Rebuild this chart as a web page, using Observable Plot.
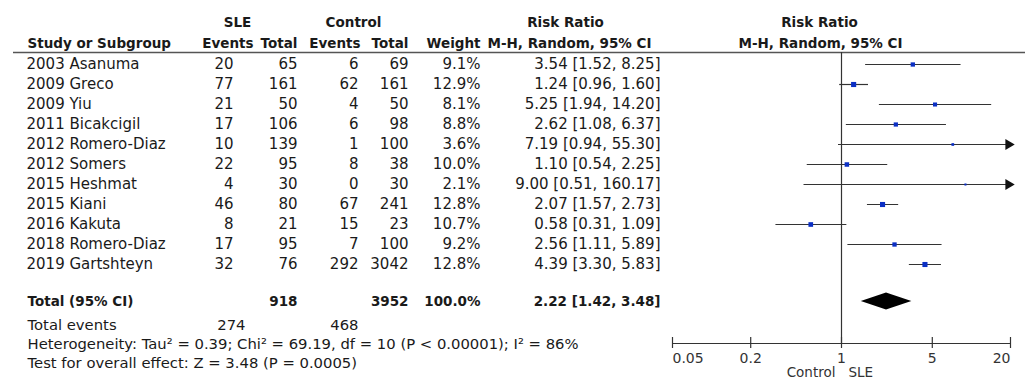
<!DOCTYPE html>
<html><head><meta charset="utf-8">
<script src="https://cdn.jsdelivr.net/npm/d3@7"></script>
<script src="https://cdn.jsdelivr.net/npm/@observablehq/plot@0.6"></script>
<style>
body{margin:0;background:#fff}
#wrap{position:relative;width:1035px;height:390px;overflow:hidden}
#wrap svg{position:absolute;left:0;top:0;overflow:visible}
</style>
</head><body><div id="wrap"></div>
<script>
// ---- data ----
const studies = ["2003 Asanuma","2009 Greco","2009 Yiu","2011 Bicakcigil","2012 Romero-Diaz","2012 Somers","2015 Heshmat","2015 Kiani","2016 Kakuta","2018 Romero-Diaz","2019 Gartshteyn"];
const sleEvents = [20,77,21,17,10,22,4,46,8,17,32];
const sleTotal  = [65,161,50,106,139,95,30,80,21,95,76];
const ctlEvents = [6,62,4,6,1,8,0,67,15,7,292];
const ctlTotal  = [69,161,50,98,100,38,30,241,23,100,3042];
const weights   = [9.1,12.9,8.1,8.8,3.6,10.0,2.1,12.8,10.7,9.2,12.8];
const rr        = [3.54,1.24,5.25,2.62,7.19,1.10,9.00,2.07,0.58,2.56,4.39];
const lower     = [1.52,0.96,1.94,1.08,0.94,0.54,0.51,1.57,0.31,1.11,3.30];
const upper     = [8.25,1.60,14.20,6.37,55.30,2.25,160.17,2.73,1.09,5.89,5.83];
const pooled    = [2.22,1.42,3.48];          // RR, lower, upper
const totalN    = [918,3952];                // SLE total, Control total
const totalEv   = [274,468];                 // SLE events, Control events
const totalWeight = 100.0;
const heterogeneity = "Heterogeneity: Tau² = 0.39; Chi² = 69.19, df = 10 (P < 0.00001); I² = 86%";
const overall = "Test for overall effect: Z = 3.48 (P = 0.0005)";
const axisTicks = [0.05,0.2,1,5,20];
const axisLabels = ["0.05","0.2","1","5","20"];

// ---- layout ----
const W = 1035, H = 390;
const col = {study:26, sleE:233, sleT:297, ctlE:358, ctlT:408, wt:480, ci:660};
const xMin = 0.05, xMax = 20;
const rowY = {h1:-2.1, h2:-1.05, rule:-0.6, total:11.85, tev:13.05, het:14.0, test:14.95, axis:13.95};
const yScale = {domain:[-3.2,16.3], range:[0,H]};
const font = "DejaVu Sans, Verdana, sans-serif";
const fs = 15, fsb = 13.5, fss = 14.8;
const ink = "#1a1a1a";

const rows = studies.map((s,i)=>({i, study:s, sleE:String(sleEvents[i]), sleT:String(sleTotal[i]), ctlE:String(ctlEvents[i]), ctlT:String(ctlTotal[i]),
  w:weights[i], rr:rr[i], lo:lower[i], hi:upper[i],
  ci:`${rr[i].toFixed(2)} [${lower[i].toFixed(2)}, ${upper[i].toFixed(2)}]`}));

const T = (data, opts) => Plot.text(data, {fontSize:fs, fill:ink, ...opts});
const B = (data, opts) => Plot.text(data, {fontSize:fsb, fill:ink, fontWeight:"bold", ...opts});

const table = Plot.plot({
  width:W, height:H, margin:0,
  x:{type:"identity", axis:null}, y:{...yScale, axis:null},
  style:{fontFamily:font, background:"transparent"},
  marks:[
    B(["SLE"], {x:()=>237, y:()=>rowY.h1, text:d=>d}),
    B(["Control"], {x:()=>353, y:()=>rowY.h1, text:d=>d}),
    B(["Risk Ratio"], {x:()=>565, y:()=>rowY.h1, text:d=>d}),
    B(["Risk Ratio"], {x:()=>819, y:()=>rowY.h1, text:d=>d}),
    B(["Study or Subgroup"], {x:()=>col.study+1, y:()=>rowY.h2, text:d=>d, textAnchor:"start"}),
    B([["Events",253],["Total",297],["Events",360],["Total",408],["Weight",480]], {x:d=>d[1], y:()=>rowY.h2, text:d=>d[0], textAnchor:"end"}),
    B(["M-H, Random, 95% CI"], {x:()=>569, y:()=>rowY.h2, text:d=>d}),
    B(["M-H, Random, 95% CI"], {x:()=>820, y:()=>rowY.h2, text:d=>d}),
    Plot.ruleY([rowY.rule], {x1:13, x2:1025, stroke:"#555", strokeWidth:1.5}),
    T(rows, {x:()=>col.study, y:"i", text:"study", textAnchor:"start"}),
    T(rows, {x:()=>col.sleE, y:"i", text:"sleE", textAnchor:"end"}),
    T(rows, {x:()=>col.sleT, y:"i", text:"sleT", textAnchor:"end"}),
    T(rows, {x:()=>col.ctlE, y:"i", text:"ctlE", textAnchor:"end"}),
    T(rows, {x:()=>col.ctlT, y:"i", text:"ctlT", textAnchor:"end"}),
    T(rows, {x:()=>col.wt, y:"i", text:d=>d.w.toFixed(1)+"%", textAnchor:"end"}),
    T(rows, {x:()=>col.ci, y:"i", text:"ci", textAnchor:"end"}),
    // total row
    B(["Total (95% CI)"], {x:()=>col.study+1, y:()=>rowY.total, text:d=>d, textAnchor:"start"}),
    B([totalN[0]], {x:()=>col.sleT, y:()=>rowY.total, text:d=>String(d), textAnchor:"end"}),
    B([totalN[1]], {x:()=>col.ctlT, y:()=>rowY.total, text:d=>String(d), textAnchor:"end"}),
    B([totalWeight], {x:()=>col.wt, y:()=>rowY.total, text:d=>d.toFixed(1)+"%", textAnchor:"end"}),
    B([pooled], {x:()=>col.ci, y:()=>rowY.total, text:d=>`${d[0].toFixed(2)} [${d[1].toFixed(2)}, ${d[2].toFixed(2)}]`, textAnchor:"end"}),
    T(["Total events"], {x:()=>col.study+1, y:()=>rowY.tev, text:d=>d, textAnchor:"start", fontSize:fss}),
    T([totalEv[0]], {x:()=>245, y:()=>rowY.tev, text:d=>String(d), textAnchor:"end", fontSize:fss}),
    T([totalEv[1]], {x:()=>358, y:()=>rowY.tev, text:d=>String(d), textAnchor:"end", fontSize:fss}),
    T([heterogeneity], {x:()=>col.study+1, y:()=>rowY.het, text:d=>d, textAnchor:"start", fontSize:fss}),
    T([overall], {x:()=>col.study+1, y:()=>rowY.test, text:d=>d, textAnchor:"start", fontSize:fss})
  ]
});

const clipped = rows.filter(d=>d.hi > xMax);
const diamond = [
  {x:pooled[1], y1:rowY.total, y2:rowY.total},
  {x:pooled[0], y1:rowY.total-0.42, y2:rowY.total+0.42},
  {x:pooled[2], y1:rowY.total, y2:rowY.total}
];
const tickIdx = axisTicks.map((t,i)=>i);
const TL = (idx, anchor) => Plot.text(idx, {x:i=>axisTicks[i], y:()=>rowY.axis+0.75, text:i=>axisLabels[i], fontSize:14, fill:"#333", textAnchor:anchor});

const forest = Plot.plot({
  width:W, height:H, margin:0,
  x:{type:"log", domain:[xMin,xMax], range:[672,1010], axis:null},
  y:{...yScale, axis:null},
  r:{type:"sqrt", domain:[0,13], range:[0,2.9]},
  style:{fontFamily:font, background:"transparent"},
  marks:[
    Plot.ruleX([1], {y1:rowY.rule, y2:rowY.axis, stroke:"#333", strokeWidth:1.2}),
    Plot.link(rows, {x1:"lo", x2:d=>Math.min(d.hi,xMax), y1:"i", y2:"i", stroke:"#333", strokeWidth:1.2}),
    Plot.dot(clipped, {x:()=>xMax, y:"i", symbol:"triangle", rotate:90, r:4, fill:"#111", dx:-2}),
    Plot.dot(rows, {x:"rr", y:"i", r:"w", symbol:"square", fill:"#0b2fc4"}),
    Plot.areaY(diamond, {x:"x", y1:"y1", y2:"y2", fill:"#000", curve:"linear"}),
    Plot.ruleY([rowY.axis], {x1:xMin, x2:xMax, stroke:"#333", strokeWidth:1.2}),
    Plot.ruleX(axisTicks, {x:d=>d, y1:rowY.axis-0.3, y2:rowY.axis+0.25, stroke:"#333", strokeWidth:1.2}),
    TL(tickIdx.slice(0,1), "start"),
    TL(tickIdx.slice(1,-1), "middle"),
    TL(tickIdx.slice(-1), "end"),
    Plot.text(["Control"], {x:()=>1, y:()=>15.4, text:d=>d, textAnchor:"end", dx:-6, fontSize:13.5, fill:"#333"}),
    Plot.text(["SLE"], {x:()=>1, y:()=>15.4, text:d=>d, textAnchor:"start", dx:7, fontSize:13.5, fill:"#333"})
  ]
});

const wrap = document.getElementById("wrap");
wrap.appendChild(table);
wrap.appendChild(forest);
</script>
</body></html>
